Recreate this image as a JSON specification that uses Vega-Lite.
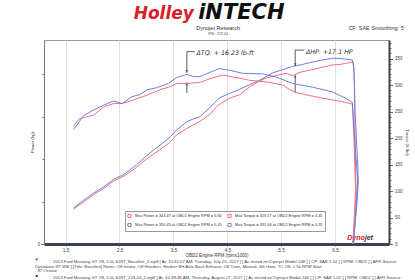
{
  "$schema": "https://vega.github.io/schema/vega-lite/v6.json",
  "width": 345,
  "height": 204,
  "autosize": "none",
  "padding": {"left": 44, "top": 40, "right": 26, "bottom": 36},
  "background": "white",
  "config": {
    "font": "Liberation Sans",
    "view": {"stroke": "#9a9a9a", "strokeWidth": 1},
    "legend": {
      "orient": "none", "legendX": 81, "legendY": 171, "columns": 2, "title": null,
      "labelFontSize": 3.9, "labelColor": "#333", "labelLimit": 0, "labelOffset": 3,
      "symbolType": "square", "symbolSize": 10, "symbolStrokeWidth": 1, "symbolFillColor": "#fff",
      "fillColor": "white", "strokeColor": "#999", "padding": 2, "rowPadding": 0.5, "columnPadding": 3
    }
  },
  "datasets": {
    "power": [
      {"s": "Max Power = 343.47 at OBD2 Engine RPM = 6.84", "o": 1, "rpm": 1.65, "v": 66},
      {"s": "Max Power = 343.47 at OBD2 Engine RPM = 6.84", "o": 2, "rpm": 1.84, "v": 80},
      {"s": "Max Power = 343.47 at OBD2 Engine RPM = 6.84", "o": 3, "rpm": 2.02, "v": 93},
      {"s": "Max Power = 343.47 at OBD2 Engine RPM = 6.84", "o": 4, "rpm": 2.21, "v": 105},
      {"s": "Max Power = 343.47 at OBD2 Engine RPM = 6.84", "o": 5, "rpm": 2.39, "v": 119},
      {"s": "Max Power = 343.47 at OBD2 Engine RPM = 6.84", "o": 6, "rpm": 2.58, "v": 128},
      {"s": "Max Power = 343.47 at OBD2 Engine RPM = 6.84", "o": 7, "rpm": 2.82, "v": 145},
      {"s": "Max Power = 343.47 at OBD2 Engine RPM = 6.84", "o": 8, "rpm": 3.01, "v": 161},
      {"s": "Max Power = 343.47 at OBD2 Engine RPM = 6.84", "o": 9, "rpm": 3.25, "v": 178},
      {"s": "Max Power = 343.47 at OBD2 Engine RPM = 6.84", "o": 10, "rpm": 3.44, "v": 192},
      {"s": "Max Power = 343.47 at OBD2 Engine RPM = 6.84", "o": 11, "rpm": 3.56, "v": 206},
      {"s": "Max Power = 343.47 at OBD2 Engine RPM = 6.84", "o": 12, "rpm": 3.75, "v": 218},
      {"s": "Max Power = 343.47 at OBD2 Engine RPM = 6.84", "o": 13, "rpm": 3.99, "v": 231},
      {"s": "Max Power = 343.47 at OBD2 Engine RPM = 6.84", "o": 14, "rpm": 4.18, "v": 245},
      {"s": "Max Power = 343.47 at OBD2 Engine RPM = 6.84", "o": 15, "rpm": 4.30, "v": 259},
      {"s": "Max Power = 343.47 at OBD2 Engine RPM = 6.84", "o": 16, "rpm": 4.39, "v": 266},
      {"s": "Max Power = 343.47 at OBD2 Engine RPM = 6.84", "o": 17, "rpm": 4.54, "v": 275},
      {"s": "Max Power = 343.47 at OBD2 Engine RPM = 6.84", "o": 18, "rpm": 4.73, "v": 282},
      {"s": "Max Power = 343.47 at OBD2 Engine RPM = 6.84", "o": 19, "rpm": 4.91, "v": 296},
      {"s": "Max Power = 343.47 at OBD2 Engine RPM = 6.84", "o": 20, "rpm": 5.10, "v": 308},
      {"s": "Max Power = 343.47 at OBD2 Engine RPM = 6.84", "o": 21, "rpm": 5.22, "v": 313},
      {"s": "Max Power = 343.47 at OBD2 Engine RPM = 6.84", "o": 22, "rpm": 5.40, "v": 318},
      {"s": "Max Power = 343.47 at OBD2 Engine RPM = 6.84", "o": 23, "rpm": 5.59, "v": 322},
      {"s": "Max Power = 343.47 at OBD2 Engine RPM = 6.84", "o": 24, "rpm": 5.71, "v": 318},
      {"s": "Max Power = 343.47 at OBD2 Engine RPM = 6.84", "o": 25, "rpm": 5.85, "v": 324},
      {"s": "Max Power = 343.47 at OBD2 Engine RPM = 6.84", "o": 26, "rpm": 6.02, "v": 328},
      {"s": "Max Power = 343.47 at OBD2 Engine RPM = 6.84", "o": 27, "rpm": 6.20, "v": 332},
      {"s": "Max Power = 343.47 at OBD2 Engine RPM = 6.84", "o": 28, "rpm": 6.45, "v": 338},
      {"s": "Max Power = 343.47 at OBD2 Engine RPM = 6.84", "o": 29, "rpm": 6.60, "v": 339},
      {"s": "Max Power = 343.47 at OBD2 Engine RPM = 6.84", "o": 30, "rpm": 6.70, "v": 341},
      {"s": "Max Power = 343.47 at OBD2 Engine RPM = 6.84", "o": 31, "rpm": 6.84, "v": 343.5},
      {"s": "Max Power = 343.47 at OBD2 Engine RPM = 6.84", "o": 32, "rpm": 6.86, "v": 300},
      {"s": "Max Power = 343.47 at OBD2 Engine RPM = 6.84", "o": 33, "rpm": 6.87, "v": 200},
      {"s": "Max Power = 343.47 at OBD2 Engine RPM = 6.84", "o": 34, "rpm": 6.89, "v": 96},
      {"s": "Max Power = 343.47 at OBD2 Engine RPM = 6.84", "o": 35, "rpm": 6.86, "v": 40},
      {"s": "Max Power = 343.47 at OBD2 Engine RPM = 6.84", "o": 36, "rpm": 6.83, "v": 0},
      {"s": "Max Power = 350.45 at OBD2 Engine RPM = 6.45", "o": 1, "rpm": 1.65, "v": 68},
      {"s": "Max Power = 350.45 at OBD2 Engine RPM = 6.45", "o": 2, "rpm": 1.84, "v": 83},
      {"s": "Max Power = 350.45 at OBD2 Engine RPM = 6.45", "o": 3, "rpm": 2.02, "v": 96},
      {"s": "Max Power = 350.45 at OBD2 Engine RPM = 6.45", "o": 4, "rpm": 2.21, "v": 108},
      {"s": "Max Power = 350.45 at OBD2 Engine RPM = 6.45", "o": 5, "rpm": 2.39, "v": 122},
      {"s": "Max Power = 350.45 at OBD2 Engine RPM = 6.45", "o": 6, "rpm": 2.58, "v": 131},
      {"s": "Max Power = 350.45 at OBD2 Engine RPM = 6.45", "o": 7, "rpm": 2.82, "v": 150},
      {"s": "Max Power = 350.45 at OBD2 Engine RPM = 6.45", "o": 8, "rpm": 3.01, "v": 167},
      {"s": "Max Power = 350.45 at OBD2 Engine RPM = 6.45", "o": 9, "rpm": 3.19, "v": 182},
      {"s": "Max Power = 350.45 at OBD2 Engine RPM = 6.45", "o": 10, "rpm": 3.31, "v": 191},
      {"s": "Max Power = 350.45 at OBD2 Engine RPM = 6.45", "o": 11, "rpm": 3.44, "v": 202},
      {"s": "Max Power = 350.45 at OBD2 Engine RPM = 6.45", "o": 12, "rpm": 3.56, "v": 215},
      {"s": "Max Power = 350.45 at OBD2 Engine RPM = 6.45", "o": 13, "rpm": 3.75, "v": 231},
      {"s": "Max Power = 350.45 at OBD2 Engine RPM = 6.45", "o": 14, "rpm": 3.87, "v": 236},
      {"s": "Max Power = 350.45 at OBD2 Engine RPM = 6.45", "o": 15, "rpm": 3.99, "v": 240},
      {"s": "Max Power = 350.45 at OBD2 Engine RPM = 6.45", "o": 16, "rpm": 4.18, "v": 258},
      {"s": "Max Power = 350.45 at OBD2 Engine RPM = 6.45", "o": 17, "rpm": 4.36, "v": 276},
      {"s": "Max Power = 350.45 at OBD2 Engine RPM = 6.45", "o": 18, "rpm": 4.54, "v": 284},
      {"s": "Max Power = 350.45 at OBD2 Engine RPM = 6.45", "o": 19, "rpm": 4.73, "v": 292},
      {"s": "Max Power = 350.45 at OBD2 Engine RPM = 6.45", "o": 20, "rpm": 4.90, "v": 300},
      {"s": "Max Power = 350.45 at OBD2 Engine RPM = 6.45", "o": 21, "rpm": 5.10, "v": 309},
      {"s": "Max Power = 350.45 at OBD2 Engine RPM = 6.45", "o": 22, "rpm": 5.22, "v": 316},
      {"s": "Max Power = 350.45 at OBD2 Engine RPM = 6.45", "o": 23, "rpm": 5.34, "v": 323},
      {"s": "Max Power = 350.45 at OBD2 Engine RPM = 6.45", "o": 24, "rpm": 5.50, "v": 328},
      {"s": "Max Power = 350.45 at OBD2 Engine RPM = 6.45", "o": 25, "rpm": 5.71, "v": 335},
      {"s": "Max Power = 350.45 at OBD2 Engine RPM = 6.45", "o": 26, "rpm": 5.90, "v": 339},
      {"s": "Max Power = 350.45 at OBD2 Engine RPM = 6.45", "o": 27, "rpm": 6.02, "v": 342},
      {"s": "Max Power = 350.45 at OBD2 Engine RPM = 6.45", "o": 28, "rpm": 6.20, "v": 346},
      {"s": "Max Power = 350.45 at OBD2 Engine RPM = 6.45", "o": 29, "rpm": 6.45, "v": 350.5},
      {"s": "Max Power = 350.45 at OBD2 Engine RPM = 6.45", "o": 30, "rpm": 6.60, "v": 350},
      {"s": "Max Power = 350.45 at OBD2 Engine RPM = 6.45", "o": 31, "rpm": 6.70, "v": 349},
      {"s": "Max Power = 350.45 at OBD2 Engine RPM = 6.45", "o": 32, "rpm": 6.82, "v": 347},
      {"s": "Max Power = 350.45 at OBD2 Engine RPM = 6.45", "o": 33, "rpm": 6.85, "v": 330},
      {"s": "Max Power = 350.45 at OBD2 Engine RPM = 6.45", "o": 34, "rpm": 6.87, "v": 250},
      {"s": "Max Power = 350.45 at OBD2 Engine RPM = 6.45", "o": 35, "rpm": 6.92, "v": 150},
      {"s": "Max Power = 350.45 at OBD2 Engine RPM = 6.45", "o": 36, "rpm": 6.93, "v": 115},
      {"s": "Max Power = 350.45 at OBD2 Engine RPM = 6.45", "o": 37, "rpm": 6.90, "v": 70},
      {"s": "Max Power = 350.45 at OBD2 Engine RPM = 6.45", "o": 38, "rpm": 6.86, "v": 30},
      {"s": "Max Power = 350.45 at OBD2 Engine RPM = 6.45", "o": 39, "rpm": 6.84, "v": 0}
    ],
    "torque": [
      {"s": "Max Torque = 319.17 at OBD2 Engine RPM = 4.45", "o": 1, "rpm": 1.65, "v": 223},
      {"s": "Max Torque = 319.17 at OBD2 Engine RPM = 4.45", "o": 2, "rpm": 1.75, "v": 236},
      {"s": "Max Torque = 319.17 at OBD2 Engine RPM = 4.45", "o": 3, "rpm": 1.84, "v": 239},
      {"s": "Max Torque = 319.17 at OBD2 Engine RPM = 4.45", "o": 4, "rpm": 2.02, "v": 243},
      {"s": "Max Torque = 319.17 at OBD2 Engine RPM = 4.45", "o": 5, "rpm": 2.21, "v": 259},
      {"s": "Max Torque = 319.17 at OBD2 Engine RPM = 4.45", "o": 6, "rpm": 2.39, "v": 265},
      {"s": "Max Torque = 319.17 at OBD2 Engine RPM = 4.45", "o": 7, "rpm": 2.55, "v": 265},
      {"s": "Max Torque = 319.17 at OBD2 Engine RPM = 4.45", "o": 8, "rpm": 2.76, "v": 272},
      {"s": "Max Torque = 319.17 at OBD2 Engine RPM = 4.45", "o": 9, "rpm": 3.01, "v": 281},
      {"s": "Max Torque = 319.17 at OBD2 Engine RPM = 4.45", "o": 10, "rpm": 3.25, "v": 291},
      {"s": "Max Torque = 319.17 at OBD2 Engine RPM = 4.45", "o": 11, "rpm": 3.44, "v": 297},
      {"s": "Max Torque = 319.17 at OBD2 Engine RPM = 4.45", "o": 12, "rpm": 3.56, "v": 303},
      {"s": "Max Torque = 319.17 at OBD2 Engine RPM = 4.45", "o": 13, "rpm": 3.75, "v": 303},
      {"s": "Max Torque = 319.17 at OBD2 Engine RPM = 4.45", "o": 14, "rpm": 3.99, "v": 305},
      {"s": "Max Torque = 319.17 at OBD2 Engine RPM = 4.45", "o": 15, "rpm": 4.21, "v": 313},
      {"s": "Max Torque = 319.17 at OBD2 Engine RPM = 4.45", "o": 16, "rpm": 4.42, "v": 319},
      {"s": "Max Torque = 319.17 at OBD2 Engine RPM = 4.45", "o": 17, "rpm": 4.61, "v": 315},
      {"s": "Max Torque = 319.17 at OBD2 Engine RPM = 4.45", "o": 18, "rpm": 4.73, "v": 313},
      {"s": "Max Torque = 319.17 at OBD2 Engine RPM = 4.45", "o": 19, "rpm": 4.91, "v": 309},
      {"s": "Max Torque = 319.17 at OBD2 Engine RPM = 4.45", "o": 20, "rpm": 5.22, "v": 306},
      {"s": "Max Torque = 319.17 at OBD2 Engine RPM = 4.45", "o": 21, "rpm": 5.53, "v": 300},
      {"s": "Max Torque = 319.17 at OBD2 Engine RPM = 4.45", "o": 22, "rpm": 5.65, "v": 292},
      {"s": "Max Torque = 319.17 at OBD2 Engine RPM = 4.45", "o": 23, "rpm": 5.77, "v": 286},
      {"s": "Max Torque = 319.17 at OBD2 Engine RPM = 4.45", "o": 24, "rpm": 6.08, "v": 279},
      {"s": "Max Torque = 319.17 at OBD2 Engine RPM = 4.45", "o": 25, "rpm": 6.45, "v": 272},
      {"s": "Max Torque = 319.17 at OBD2 Engine RPM = 4.45", "o": 26, "rpm": 6.70, "v": 267},
      {"s": "Max Torque = 319.17 at OBD2 Engine RPM = 4.45", "o": 27, "rpm": 6.82, "v": 264},
      {"s": "Max Torque = 319.17 at OBD2 Engine RPM = 4.45", "o": 28, "rpm": 6.85, "v": 200},
      {"s": "Max Torque = 319.17 at OBD2 Engine RPM = 4.45", "o": 29, "rpm": 6.88, "v": 100},
      {"s": "Max Torque = 319.17 at OBD2 Engine RPM = 4.45", "o": 30, "rpm": 6.85, "v": 40},
      {"s": "Max Torque = 319.17 at OBD2 Engine RPM = 4.45", "o": 31, "rpm": 6.83, "v": 0},
      {"s": "Max Torque = 331.06 at OBD2 Engine RPM = 4.35", "o": 1, "rpm": 1.65, "v": 216},
      {"s": "Max Torque = 331.06 at OBD2 Engine RPM = 4.35", "o": 2, "rpm": 1.84, "v": 243},
      {"s": "Max Torque = 331.06 at OBD2 Engine RPM = 4.35", "o": 3, "rpm": 2.02, "v": 253},
      {"s": "Max Torque = 331.06 at OBD2 Engine RPM = 4.35", "o": 4, "rpm": 2.21, "v": 262},
      {"s": "Max Torque = 331.06 at OBD2 Engine RPM = 4.35", "o": 5, "rpm": 2.39, "v": 270},
      {"s": "Max Torque = 331.06 at OBD2 Engine RPM = 4.35", "o": 6, "rpm": 2.55, "v": 265},
      {"s": "Max Torque = 331.06 at OBD2 Engine RPM = 4.35", "o": 7, "rpm": 2.73, "v": 278},
      {"s": "Max Torque = 331.06 at OBD2 Engine RPM = 4.35", "o": 8, "rpm": 2.88, "v": 282},
      {"s": "Max Torque = 331.06 at OBD2 Engine RPM = 4.35", "o": 9, "rpm": 3.01, "v": 291},
      {"s": "Max Torque = 331.06 at OBD2 Engine RPM = 4.35", "o": 10, "rpm": 3.19, "v": 295},
      {"s": "Max Torque = 331.06 at OBD2 Engine RPM = 4.35", "o": 11, "rpm": 3.41, "v": 303},
      {"s": "Max Torque = 331.06 at OBD2 Engine RPM = 4.35", "o": 12, "rpm": 3.56, "v": 314},
      {"s": "Max Torque = 331.06 at OBD2 Engine RPM = 4.35", "o": 13, "rpm": 3.75, "v": 320},
      {"s": "Max Torque = 331.06 at OBD2 Engine RPM = 4.35", "o": 14, "rpm": 3.87, "v": 316},
      {"s": "Max Torque = 331.06 at OBD2 Engine RPM = 4.35", "o": 15, "rpm": 3.99, "v": 316},
      {"s": "Max Torque = 331.06 at OBD2 Engine RPM = 4.35", "o": 16, "rpm": 4.18, "v": 324},
      {"s": "Max Torque = 331.06 at OBD2 Engine RPM = 4.35", "o": 17, "rpm": 4.35, "v": 331},
      {"s": "Max Torque = 331.06 at OBD2 Engine RPM = 4.35", "o": 18, "rpm": 4.54, "v": 328},
      {"s": "Max Torque = 331.06 at OBD2 Engine RPM = 4.35", "o": 19, "rpm": 4.79, "v": 322},
      {"s": "Max Torque = 331.06 at OBD2 Engine RPM = 4.35", "o": 20, "rpm": 5.16, "v": 321},
      {"s": "Max Torque = 331.06 at OBD2 Engine RPM = 4.35", "o": 21, "rpm": 5.41, "v": 315},
      {"s": "Max Torque = 331.06 at OBD2 Engine RPM = 4.35", "o": 22, "rpm": 5.71, "v": 303},
      {"s": "Max Torque = 331.06 at OBD2 Engine RPM = 4.35", "o": 23, "rpm": 6.08, "v": 296},
      {"s": "Max Torque = 331.06 at OBD2 Engine RPM = 4.35", "o": 24, "rpm": 6.45, "v": 287},
      {"s": "Max Torque = 331.06 at OBD2 Engine RPM = 4.35", "o": 25, "rpm": 6.70, "v": 275},
      {"s": "Max Torque = 331.06 at OBD2 Engine RPM = 4.35", "o": 26, "rpm": 6.82, "v": 267},
      {"s": "Max Torque = 331.06 at OBD2 Engine RPM = 4.35", "o": 27, "rpm": 6.86, "v": 200},
      {"s": "Max Torque = 331.06 at OBD2 Engine RPM = 4.35", "o": 28, "rpm": 6.92, "v": 120},
      {"s": "Max Torque = 331.06 at OBD2 Engine RPM = 4.35", "o": 29, "rpm": 6.88, "v": 50},
      {"s": "Max Torque = 331.06 at OBD2 Engine RPM = 4.35", "o": 30, "rpm": 6.84, "v": 0}
    ],
    "arrows": [
      {"rpm": 3.75, "rpm2": 3.75, "v": 363, "v2": 323},
      {"rpm": 3.75, "rpm2": 3.75, "v": 285, "v2": 305},
      {"rpm": 3.75, "rpm2": 3.9, "v": 363, "v2": 363},
      {"rpm": 5.76, "rpm2": 5.76, "v": 366, "v2": 336},
      {"rpm": 5.76, "rpm2": 5.76, "v": 285, "v2": 319},
      {"rpm": 5.76, "rpm2": 5.93, "v": 366, "v2": 366}
    ],
    "heads": [
      {"rpm": 3.75, "v": 326, "dir": "down"},
      {"rpm": 3.75, "v": 302, "dir": "up"},
      {"rpm": 5.76, "v": 339, "dir": "down"},
      {"rpm": 5.76, "v": 316, "dir": "up"}
    ],
    "notes": [
      {"rpm": 3.93, "v": 360, "t": "ΔTQ: + 16.23 lb-ft"},
      {"rpm": 5.96, "v": 362, "t": "ΔHP: +17.1 HP"}
    ],
    "header": [
      {"rpm": 4.33, "v": 407, "t": "Dynojet Research"},
      {"rpm": 7.26, "v": 407, "t": "CF: SAE Smoothing: 5"}
    ],
    "pn": [
      {"rpm": 4.33, "v": 396, "t": "P/N : 223-04"}
    ],
    "logo1": [{"rpm": 3.88, "v": 424, "t": "Holley"}],
    "logo2": [{"rpm": 3.96, "v": 424, "t": "iNTECH"}],
    "foot": [
      {"rpm": 1.267, "v": -34, "t": "2013 Ford Mustang GT V8, 5.0L S197_Baseline_2.wp8 [ At: 10:42:07 AM, Tuesday, July 25, 2017 ] [ As tested on Dynojet Model 248 ] [ CF: SAE 1.02 ] [ RPM: OBD2 ] [ AFR Source:"},
      {"rpm": 0.933, "v": -43, "t": "Dynoware RT WB ] [Title: Baseline]  Notes: Off Intake, Off Headers, Hooker BH Axle-Back Exhaust, Off Tune, Manual, 4th Gear, TC Off, 1.5k RPM Start"},
      {"rpm": 0.933, "v": -51.5, "t": ", 87 Octane"},
      {"rpm": 1.267, "v": -63.6, "t": "2013 Ford Mustang GT V8, 5.0L S197_223-04_1.wp8 [ At: 10:39:48 AM, Thursday, August 17, 2017 ] [ As tested on Dynojet Model 248 ] [ CF: SAE 1.02 ] [ RPM: OBD2 ] [ AFR Source:"}
    ],
    "dots": [
      {"rpm": 0.965, "v": -29, "run": "baseline"},
      {"rpm": 0.965, "v": -60.4, "run": "223-04"}
    ],
    "dyno": [{"rpm": 7.05, "v": 12, "t": "Dyno"}],
    "jet": [{"rpm": 7.05, "v": 12, "t": "jet"}]
  },
  "layer": [
    {
      "layer": [
        {
          "data": {"name": "power"},
          "mark": {"type": "line", "strokeWidth": 1, "clip": true},
          "encoding": {
            "x": {"field": "rpm", "type": "quantitative", "scale": {"domain": [1.1, 7.5], "nice": false, "zero": false},
              "axis": {"values": [1.5, 2.0, 2.5, 3.0, 3.5, 4.0, 4.5, 5.0, 5.5, 6.0, 6.5, 7.0], "format": ".1f",
                "title": "OBD2 Engine RPM (rpmx1000)", "titleFontSize": 4.5, "titleFontWeight": "normal", "titleColor": "#333", "titlePadding": 1,
                "labelFontSize": 4.8, "labelColor": "#444", "labelPadding": 1, "tickSize": 2, "tickColor": "#666",
                "domainColor": "#3a4252", "domainWidth": 3, "grid": true, "gridColor": "#d9d9d9", "gridWidth": 0.8}},
            "y": {"field": "v", "type": "quantitative", "scale": {"domain": [0, 385], "nice": false},
              "axis": {"orient": "left", "values": [0,10,20,30,40,50,60,70,80,90,100,110,120,130,140,150,160,170,180,190,200,210,220,230,240,250,260,270,280,290,300,310,320,330,340,350,360,370,380],
                "labelExpr": "datum.value % 50 === 0 ? datum.label : ''",
                "tickSize": {"condition": {"test": "datum.value % 50 === 0", "value": 3.5}, "value": 2},
                "gridOpacity": {"condition": {"test": "datum.value % 50 === 0", "value": 1}, "value": 0},
                "grid": true, "gridColor": "#d9d9d9", "gridWidth": 0.8, "tickColor": "#777",
                "labelFontSize": 4.5, "labelColor": "#444", "labelPadding": 1,
                "domainColor": "#777", "domainWidth": 1,
                "title": "Power (hp)", "titleFontSize": 4.3, "titleFontWeight": "normal", "titleColor": "#333", "titlePadding": 2}},
            "color": {"field": "s", "type": "nominal",
              "scale": {"domain": ["Max Power = 343.47 at OBD2 Engine RPM = 6.84", "Max Power = 350.45 at OBD2 Engine RPM = 6.45", "Max Torque = 319.17 at OBD2 Engine RPM = 4.45", "Max Torque = 331.06 at OBD2 Engine RPM = 4.35"],
                "range": ["#f0707c", "#6f7de2", "#f0707c", "#6f7de2"]}},
            "order": {"field": "o", "type": "quantitative"}
          }
        },
        {
          "data": {"name": "arrows"},
          "mark": {"type": "rule", "color": "#333", "strokeWidth": 0.8},
          "encoding": {
            "x": {"field": "rpm", "type": "quantitative", "scale": {"domain": [1.1, 7.5], "nice": false, "zero": false}},
            "x2": {"field": "rpm2"},
            "y": {"field": "v", "type": "quantitative", "scale": {"domain": [0, 385], "nice": false}},
            "y2": {"field": "v2"}
          }
        },
        {
          "data": {"name": "heads"},
          "mark": {"type": "point", "filled": true, "color": "#333", "size": 7},
          "encoding": {
            "x": {"field": "rpm", "type": "quantitative", "scale": {"domain": [1.1, 7.5], "nice": false, "zero": false}},
            "y": {"field": "v", "type": "quantitative", "scale": {"domain": [0, 385], "nice": false}},
            "shape": {"field": "dir", "type": "nominal", "scale": {"domain": ["down", "up"], "range": ["triangle-down", "triangle-up"]}, "legend": null}
          }
        },
        {
          "data": {"name": "notes"},
          "mark": {"type": "text", "align": "left", "baseline": "middle", "fontSize": 6.3, "fontStyle": "italic", "font": "DejaVu Sans", "color": "#2a2a2a"},
          "encoding": {
            "x": {"field": "rpm", "type": "quantitative", "scale": {"domain": [1.1, 7.5], "nice": false, "zero": false}},
            "y": {"field": "v", "type": "quantitative", "scale": {"domain": [0, 385], "nice": false}},
            "text": {"field": "t"}
          }
        },
        {
          "data": {"name": "header"},
          "mark": {"type": "text", "align": "center", "baseline": "middle", "fontSize": 5.5, "color": "#333"},
          "encoding": {
            "x": {"field": "rpm", "type": "quantitative", "scale": {"domain": [1.1, 7.5], "nice": false, "zero": false}},
            "y": {"field": "v", "type": "quantitative", "scale": {"domain": [0, 385], "nice": false}},
            "text": {"field": "t"}
          }
        },
        {
          "data": {"name": "pn"},
          "mark": {"type": "text", "align": "center", "baseline": "middle", "fontSize": 3.5, "color": "#444"},
          "encoding": {
            "x": {"field": "rpm", "type": "quantitative", "scale": {"domain": [1.1, 7.5], "nice": false, "zero": false}},
            "y": {"field": "v", "type": "quantitative", "scale": {"domain": [0, 385], "nice": false}},
            "text": {"field": "t"}
          }
        },
        {
          "data": {"name": "logo1"},
          "mark": {"type": "text", "align": "right", "baseline": "alphabetic", "fontSize": 17, "fontWeight": "bold", "fontStyle": "italic", "font": "DejaVu Sans", "color": "#d8202a"},
          "encoding": {
            "x": {"field": "rpm", "type": "quantitative", "scale": {"domain": [1.1, 7.5], "nice": false, "zero": false}},
            "y": {"field": "v", "type": "quantitative", "scale": {"domain": [0, 385], "nice": false}},
            "text": {"field": "t"}
          }
        },
        {
          "data": {"name": "logo2"},
          "mark": {"type": "text", "align": "left", "baseline": "alphabetic", "fontSize": 21, "fontWeight": "bold", "fontStyle": "italic", "font": "DejaVu Sans", "color": "#111"},
          "encoding": {
            "x": {"field": "rpm", "type": "quantitative", "scale": {"domain": [1.1, 7.5], "nice": false, "zero": false}},
            "y": {"field": "v", "type": "quantitative", "scale": {"domain": [0, 385], "nice": false}},
            "text": {"field": "t"}
          }
        },
        {
          "data": {"name": "foot"},
          "mark": {"type": "text", "align": "left", "baseline": "middle", "fontSize": 4.3, "color": "#444"},
          "encoding": {
            "x": {"field": "rpm", "type": "quantitative", "scale": {"domain": [1.1, 7.5], "nice": false, "zero": false}},
            "y": {"field": "v", "type": "quantitative", "scale": {"domain": [0, 385], "nice": false}},
            "text": {"field": "t"}
          }
        },
        {
          "data": {"name": "dots"},
          "mark": {"type": "square", "size": 4, "opacity": 1},
          "encoding": {
            "x": {"field": "rpm", "type": "quantitative", "scale": {"domain": [1.1, 7.5], "nice": false, "zero": false}},
            "y": {"field": "v", "type": "quantitative", "scale": {"domain": [0, 385], "nice": false}},
            "fill": {"field": "run", "type": "nominal", "scale": {"domain": ["baseline", "223-04"], "range": ["#e8202a", "#2030c0"]}, "legend": null}
          }
        },
        {
          "data": {"name": "dyno"},
          "mark": {"type": "text", "align": "right", "baseline": "middle", "fontSize": 7, "fontWeight": "bold", "fontStyle": "italic", "color": "#d8202a"},
          "encoding": {
            "x": {"field": "rpm", "type": "quantitative", "scale": {"domain": [1.1, 7.5], "nice": false, "zero": false}},
            "y": {"field": "v", "type": "quantitative", "scale": {"domain": [0, 385], "nice": false}},
            "text": {"field": "t"}
          }
        },
        {
          "data": {"name": "jet"},
          "mark": {"type": "text", "align": "left", "baseline": "middle", "fontSize": 7, "fontWeight": "bold", "fontStyle": "italic", "color": "#333"},
          "encoding": {
            "x": {"field": "rpm", "type": "quantitative", "scale": {"domain": [1.1, 7.5], "nice": false, "zero": false}},
            "y": {"field": "v", "type": "quantitative", "scale": {"domain": [0, 385], "nice": false}},
            "text": {"field": "t"}
          }
        }
      ]
    },
    {
      "data": {"name": "torque"},
      "mark": {"type": "line", "strokeWidth": 1, "clip": true},
      "encoding": {
        "x": {"field": "rpm", "type": "quantitative", "scale": {"domain": [1.1, 7.5], "nice": false, "zero": false}},
        "y": {"field": "v", "type": "quantitative", "scale": {"domain": [0, 385], "nice": false},
          "axis": {"orient": "right", "values": [0,10,20,30,40,50,60,70,80,90,100,110,120,130,140,150,160,170,180,190,200,210,220,230,240,250,260,270,280,290,300,310,320,330,340,350,360,370,380],
            "labelExpr": "datum.value % 50 === 0 ? datum.label : ''",
            "tickSize": {"condition": {"test": "datum.value % 50 === 0", "value": 3.5}, "value": 2},
            "grid": false, "tickColor": "#666",
            "labelFontSize": 4.5, "labelColor": "#444", "labelPadding": 2,
            "domainColor": "#3a4252", "domainWidth": 2,
            "title": "Torque (ft-lbs)", "titleFontSize": 4.3, "titleFontWeight": "normal", "titleColor": "#333", "titlePadding": 2}},
        "color": {"field": "s", "type": "nominal",
          "scale": {"domain": ["Max Power = 343.47 at OBD2 Engine RPM = 6.84", "Max Power = 350.45 at OBD2 Engine RPM = 6.45", "Max Torque = 319.17 at OBD2 Engine RPM = 4.45", "Max Torque = 331.06 at OBD2 Engine RPM = 4.35"],
            "range": ["#f0707c", "#6f7de2", "#f0707c", "#6f7de2"]}},
        "order": {"field": "o", "type": "quantitative"}
      }
    }
  ],
  "resolve": {"scale": {"y": "independent"}}
}
